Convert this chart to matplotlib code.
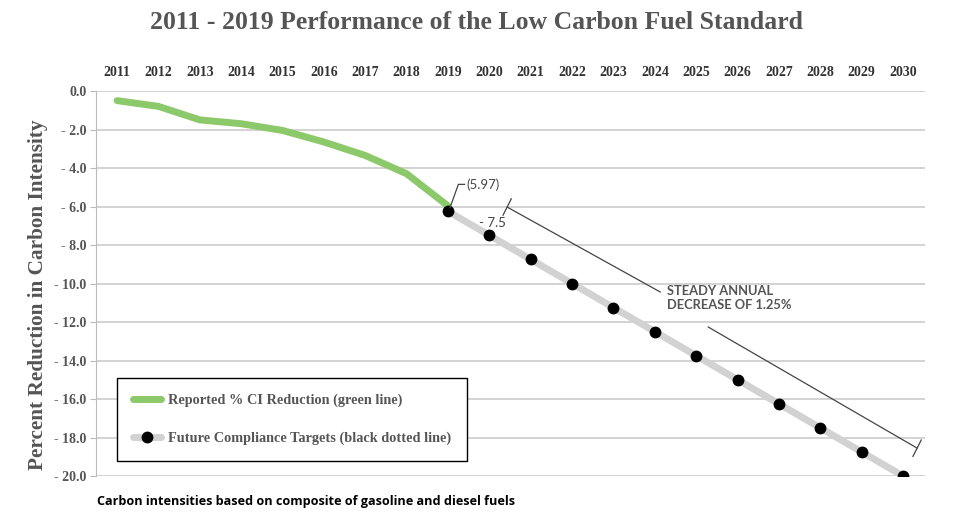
import matplotlib.pyplot as plt
from matplotlib.lines import Line2D

years = list(range(2011, 2031))
reported_years = list(range(2011, 2020))
reported_ci = [-0.5, -0.8, -1.5, -1.7, -2.05, -2.65, -3.35, -4.3, -5.97]
target_years = list(range(2019, 2031))
target_ci = [-6.25, -7.5, -8.75, -10.0, -11.25, -12.5, -13.75, -15.0, -16.25, -17.5, -18.75, -20.0]
y_ticks = [0, -2, -4, -6, -8, -10, -12, -14, -16, -18, -20]

serif = 'Liberation Serif'
sans = 'Lato'
grey_txt = '#555555'
green = '#8cc96a'

fig = plt.figure(figsize=(9.59, 5.2), dpi=100)
ax = fig.add_axes([0.1001, 0.0846, 0.8644, 0.7404])

ax.plot(target_years, target_ci, color='#d2d2d2', lw=5, solid_capstyle='round', zorder=3)
ax.plot(target_years, target_ci, linestyle='none', marker='o', markersize=7.5,
        color='black', zorder=5)
ax.plot(reported_years, reported_ci, color=green, lw=5, solid_capstyle='round', zorder=4)

ax.set_xlim(2010.49, 2030.53)
ax.set_ylim(-20, 0)
ax.set_yticks(y_ticks)
ax.set_yticklabels(['0.0'] + ['- %.1f' % abs(v) for v in y_ticks[1:]],
                   fontfamily=serif, fontweight='bold', fontsize=10, color=grey_txt)
ax.set_xticks(years)
ax.set_xticklabels([str(y) for y in years], fontfamily=serif, fontweight='bold',
                   fontsize=10, color='#333333')
ax.xaxis.tick_top()
ax.tick_params(axis='x', length=0, pad=9)
ax.tick_params(axis='y', length=4, color='#bbbbbb', pad=3)
ax.grid(axis='y', color='#c8c8c8', lw=1.1)
ax.set_axisbelow(True)
for side in ['top', 'right', 'bottom']:
    ax.spines[side].set_visible(False)
ax.spines['left'].set_color('#bbbbbb')

ax.set_ylabel('Percent Reduction in Carbon Intensity', fontfamily=serif, fontweight='bold',
              fontsize=15.3, color=grey_txt)
ax.yaxis.set_label_coords(-0.058, 0.47)

fig.text(0.497, 0.957, '2011 - 2019 Performance of the Low Carbon Fuel Standard',
         ha='center', va='center', fontfamily=serif, fontweight='bold', fontsize=18.5,
         color=grey_txt)
fig.text(0.101, 0.036, 'Carbon intensities based on composite of gasoline and diesel fuels',
         ha='left', va='center', fontfamily='Open Sans', fontweight='bold', fontsize=9.1,
         color='black')

# annotations
ax.plot([2019.05, 2019.25, 2019.4], [-6.05, -4.85, -4.85], color='#444444', lw=0.9, zorder=6)
ax.text(2019.45, -4.85, '(5.97)', ha='left', va='center', fontfamily=sans, fontsize=9.5,
        color='#444444')
ax.text(2019.76, -6.85, '- 7.5', ha='left', va='center', fontfamily=sans, fontsize=9.5,
        color='#444444')

ax.plot([2020.43, 2024.13], [-6.03, -10.44], color='#444444', lw=0.9)
ax.plot([2025.29, 2030.34], [-12.26, -18.55], color='#444444', lw=0.9)
ax.plot([2020.33, 2020.53], [-6.45, -5.6], color='#444444', lw=0.9)
ax.plot([2030.24, 2030.44], [-18.98, -18.13], color='#444444', lw=0.9)
ax.text(2024.3, -10.75, 'STEADY ANNUAL\nDECREASE OF 1.25%', ha='left', va='center',
        fontfamily=sans, fontsize=9.3, fontweight='bold', color=grey_txt, linespacing=1.2)

handles = [
    Line2D([], [], color=green, lw=5, solid_capstyle='round'),
    Line2D([], [], color='#d2d2d2', lw=5, solid_capstyle='round', marker='o',
           markersize=7.5, markerfacecolor='black', markeredgecolor='black'),
]
leg = ax.legend(handles, ['Reported % CI Reduction (green line)',
                          'Future Compliance Targets (black dotted line)'],
                loc='lower left', bbox_to_anchor=(0.0253, 0.039), borderaxespad=0,
                frameon=True, fancybox=False, edgecolor='black', framealpha=1,
                borderpad=1.1, labelspacing=1.75, handlelength=1.95, handletextpad=0.55,
                prop={'family': serif, 'weight': 'bold', 'size': 10.3})
leg.get_frame().set_linewidth(1.0)
for t in leg.get_texts():
    t.set_color(grey_txt)
leg.set_zorder(10)

fig.savefig('out.png', dpi=100)
